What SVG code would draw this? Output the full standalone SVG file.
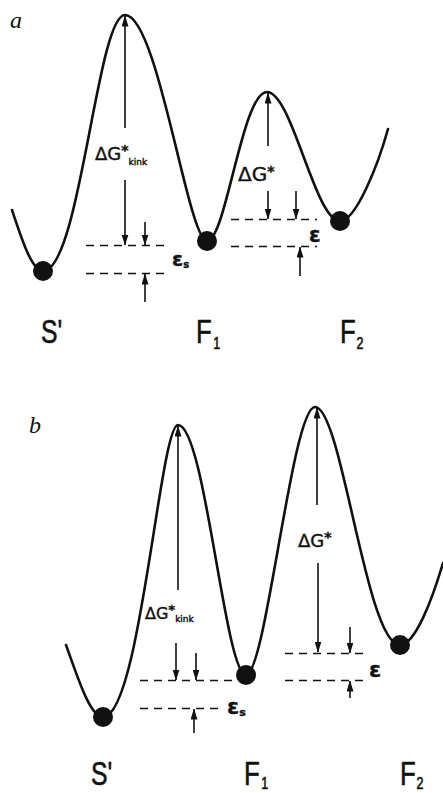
<svg xmlns="http://www.w3.org/2000/svg" width="443" height="793" viewBox="0 0 443 793">
<defs>
<style>
.curve{fill:none;stroke:#111;stroke-width:2.6;stroke-linecap:round}
.ball{fill:#111}
.arr{fill:none;stroke:#111;stroke-width:1.6;marker-end:url(#ah)}
.dash{fill:none;stroke:#111;stroke-width:1.4;stroke-dasharray:8 6}
.lab{font-family:"Liberation Sans",Arial,sans-serif;font-size:33px;fill:#111;stroke:#111;stroke-width:0.6}
.sym{font-family:"DejaVu Sans",sans-serif;fill:#111;stroke:#111;stroke-width:0.4}
.pan{font-family:"Liberation Serif","Times New Roman",serif;font-style:italic;font-size:24px;fill:#111}
</style>
<marker id="ah" viewBox="0 0 11 7" refX="10.5" refY="3.5" markerWidth="11" markerHeight="7" markerUnits="userSpaceOnUse" orient="auto">
<path d="M0,0 L11,3.5 L0,7 z" fill="#111"/>
</marker>
</defs>
<rect width="443" height="793" fill="#fff"/>

<g id="panel-a">
<text class="pan" x="10" y="28">a</text>
<path id="curve-a" class="curve" d="M12,210 C22,240 32,271 43,271 C80,271 97,15 125,15 C158,15 188,241 207,241 C226,241 242,92 267,92 C292,92 315,221 340,221 C356,221 378,165 388,129"/>
<g id="a-Sprime"><circle class="ball" cx="43" cy="271" r="10"/>
<g transform="translate(41,343) scale(0.75,1)"><text class="lab" x="0" y="0">S'</text></g></g>
<g id="a-F1"><circle class="ball" cx="207" cy="241" r="10"/>
<g transform="translate(196,343) scale(0.78,1)"><text class="lab" x="0" y="0">F<tspan dx="2" dy="6" font-size="16">1</tspan></text></g></g>
<g id="a-F2"><circle class="ball" cx="340" cy="221" r="10"/>
<g transform="translate(340,343) scale(0.78,1)"><text class="lab" x="0" y="0">F<tspan dx="1" dy="6" font-size="16">2</tspan></text></g></g>
<g id="a-connectors">
<line class="arr" x1="125" y1="128" x2="125" y2="16"/>
<line class="arr" x1="125" y1="180" x2="125" y2="245"/>
<line class="arr" x1="145" y1="222" x2="145" y2="245"/>
<line class="arr" x1="145" y1="302" x2="145" y2="274"/>
<line class="dash" x1="86" y1="245.5" x2="170" y2="245.5"/>
<line class="dash" x1="86" y1="273.5" x2="170" y2="273.5"/>
<line class="arr" x1="268" y1="146" x2="268" y2="93"/>
<line class="arr" x1="268" y1="191" x2="268" y2="219"/>
<line class="arr" x1="296" y1="191" x2="296" y2="219"/>
<line class="arr" x1="300" y1="276" x2="300" y2="247"/>
<line class="dash" x1="231" y1="219.5" x2="317" y2="219.5"/>
<line class="dash" x1="231" y1="246.5" x2="317" y2="246.5"/>
</g>
<text class="sym" x="95" y="160" font-size="18">ΔG<tspan font-size="14" font-weight="bold" dy="-5">*</tspan><tspan font-size="9" dx="0" dy="10">kink</tspan></text>
<text class="sym" x="238" y="181" font-size="20">ΔG<tspan font-size="14" font-weight="bold" dy="-5">*</tspan></text>
<text class="sym" x="172" y="266" font-size="20" font-weight="bold">ε<tspan font-size="10" dy="2">s</tspan></text>
<text class="sym" x="309" y="242" font-size="21" font-weight="bold">ε</text>
</g>

<g id="panel-b">
<text class="pan" x="29" y="433">b</text>
<path id="curve-b" class="curve" d="M66,645 C78,678 90,717 103,717 C140,717 160,425 178,425 C205,425 225,675 246,675 C266,675 292,407 315,407 C342,407 366,645 400,645 C415,645 432,600 443,563"/>
<g id="b-Sprime"><circle class="ball" cx="103" cy="717" r="10"/>
<g transform="translate(91,785) scale(0.75,1)"><text class="lab" x="0" y="0">S'</text></g></g>
<g id="b-F1"><circle class="ball" cx="246" cy="675" r="10"/>
<g transform="translate(244,785) scale(0.78,1)"><text class="lab" x="0" y="0">F<tspan dx="2" dy="4" font-size="16">1</tspan></text></g></g>
<g id="b-F2"><circle class="ball" cx="400" cy="645" r="10"/>
<g transform="translate(400,785) scale(0.78,1)"><text class="lab" x="0" y="0">F<tspan dx="1" dy="4" font-size="16">2</tspan></text></g></g>
<g id="b-connectors">
<line class="arr" x1="178" y1="590" x2="178" y2="426"/>
<line class="arr" x1="176" y1="643" x2="176" y2="680"/>
<line class="arr" x1="196" y1="653" x2="196" y2="680"/>
<line class="arr" x1="194" y1="733" x2="194" y2="709"/>
<line class="dash" x1="140" y1="680.5" x2="234" y2="680.5"/>
<line class="dash" x1="140" y1="708.5" x2="224" y2="708.5"/>
<line class="arr" x1="317" y1="505" x2="317" y2="408"/>
<line class="arr" x1="318" y1="563" x2="318" y2="652"/>
<line class="arr" x1="350" y1="627" x2="350" y2="653"/>
<line class="arr" x1="350" y1="698" x2="350" y2="681"/>
<line class="dash" x1="285" y1="653.5" x2="369" y2="653.5"/>
<line class="dash" x1="285" y1="680.5" x2="369" y2="680.5"/>
</g>
<text class="sym" x="145" y="619" font-size="16">ΔG<tspan font-size="13" font-weight="bold" dy="-5">*</tspan><tspan font-size="9" dy="8">kink</tspan></text>
<text class="sym" x="298" y="547" font-size="18">ΔG<tspan font-size="14" font-weight="bold" dy="-5">*</tspan></text>
<text class="sym" x="227" y="714" font-size="22" font-weight="bold">ε<tspan font-size="11" dy="2">s</tspan></text>
<text class="sym" x="369" y="677" font-size="22" font-weight="bold">ε</text>
</g>
</svg>
